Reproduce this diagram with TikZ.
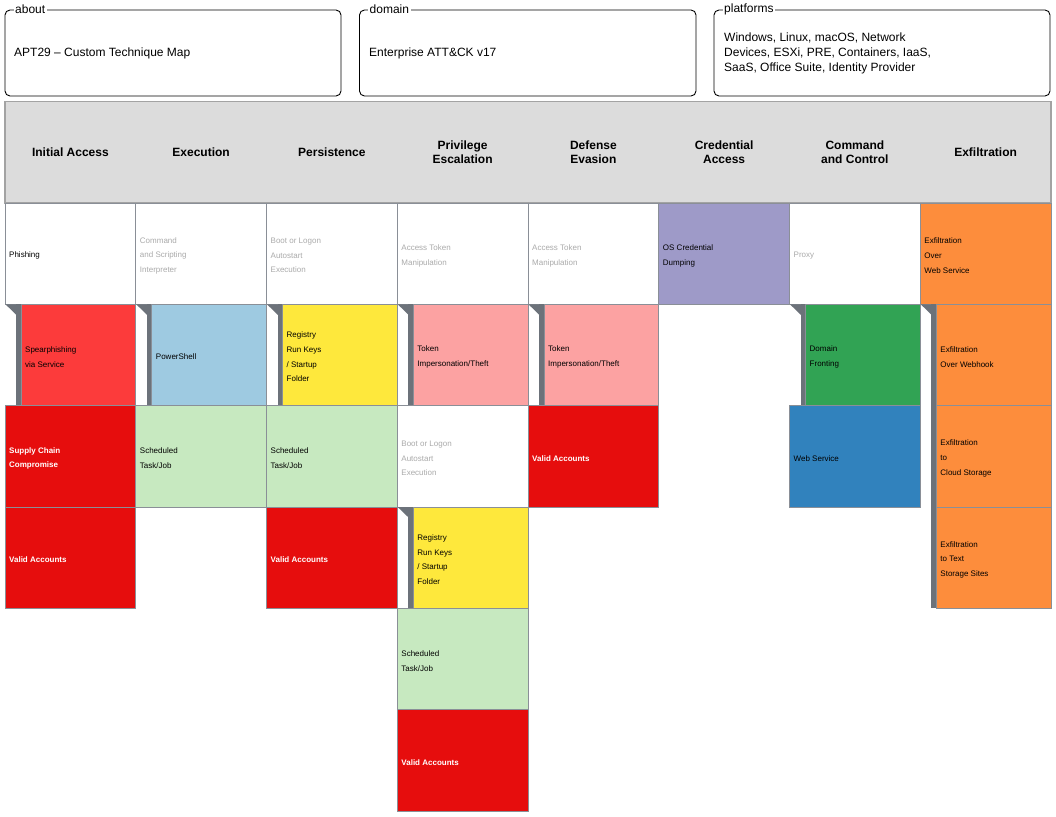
\documentclass[tikz,border=0pt]{standalone}
\usepackage{fontspec}
\setmainfont{Liberation Sans}
\definecolor{cellgray}{HTML}{8A8F97}
\definecolor{bargray}{HTML}{6C727A}
\definecolor{hdrgray}{HTML}{DCDCDC}
\definecolor{hdrline}{HTML}{A3A3A3}
\definecolor{txtgray}{HTML}{AAAAAA}
\definecolor{cRedA}{HTML}{FC3B3B}
\definecolor{cRed}{HTML}{E60D0D}
\definecolor{cBlueL}{HTML}{9ECAE1}
\definecolor{cYel}{HTML}{FEE83C}
\definecolor{cPink}{HTML}{FCA2A2}
\definecolor{cPurp}{HTML}{9E9AC8}
\definecolor{cGreen}{HTML}{31A354}
\definecolor{cBlue}{HTML}{3182BD}
\definecolor{cOrange}{HTML}{FD8D3C}
\definecolor{cGreenL}{HTML}{C7E9C0}
\newcommand\cw{130.75}
\newcommand\rh{101.35}
\tikzset{
  cellbox/.style={draw=cellgray, line width=0.9pt, anchor=north west, minimum width=130.75pt,
    minimum height=101.35pt, inner sep=0pt, outer sep=0pt},
  subbox/.style={draw=cellgray, line width=0.9pt, anchor=north west, minimum width=114.75pt,
    minimum height=101.35pt, inner sep=0pt, outer sep=0pt},
  celltext/.style={anchor=west, inner sep=0pt, align=left, text=black,
    font=\fontsize{8}{14.6}\selectfont},
  unused/.style={text=txtgray},
  redtext/.style={text=white, font=\bfseries\fontsize{8}{14.6}\selectfont},
  hdr/.style={align=center, font=\bfseries\fontsize{12}{14}\selectfont, inner sep=0pt},
  topbox/.style={draw=black, line width=0.9pt, rounded corners=5pt},
  toplabel/.style={fill=white, inner xsep=1.5pt, inner ysep=0pt, anchor=west, font=\fontsize{12}{14}\selectfont},
  toptext/.style={anchor=west, align=left, inner sep=0pt, font=\fontsize{12}{15}\selectfont},
  marker/.style={fill=bargray, draw=none}
}
% \tcell{name}{col}{row}{fill}{text style}{text}
\newcommand\tcell[6]{%
  \node[cellbox,fill=#4] (#1) at ({5+#2*\cw},{203+#3*\rh}) {};
  \node[celltext,#5] (#1-t) at ([xshift=4pt,yshift=-2pt]#1.west) {#6};}
% \scell{name}{col}{row}{fill}{text}{triangle 1/0}
\newcommand\scell[6]{%
  \fill[marker] ({5+#2*\cw+11},{203+#3*\rh}) rectangle ({5+#2*\cw+16},{203+(#3+1)*\rh});
  \ifnum#6=1
  \fill[marker] ({5+#2*\cw+0.5},{203+#3*\rh}) -- ({5+#2*\cw+16},{203+#3*\rh}) -- ({5+#2*\cw+16},{203+#3*\rh+15}) -- cycle;
  \fi
  \node[subbox,fill=#4] (#1) at ({5+#2*\cw+16},{203+#3*\rh}) {};
  \node[celltext] (#1-t) at ([xshift=4pt,yshift=-2pt]#1.west) {#5};}
\begin{document}
\begin{tikzpicture}[x=1pt,y=-1pt]
\useasboundingbox[fill=white] (0,0) rectangle (1056,816);
% top info boxes
\draw[topbox] (5,10) rectangle (341,96);
\node[toplabel] (labAbout) at (13.5,9.5) {about};
\node[toptext] (txtAbout) at (14,53) {APT29 – Custom Technique Map};
\draw[topbox] (359.5,10) rectangle (696,96);
\node[toplabel] (labDomain) at (368,9.5) {domain};
\node[toptext] (txtDomain) at (369,53) {Enterprise ATT\&CK v17};
\draw[topbox] (714,10) rectangle (1050,96);
\node[toplabel] (labPlat) at (722.5,9.5) {platforms};
\node[toptext] (txtPlat) at (724,53) {Windows, Linux, macOS, Network\\Devices, ESXi, PRE, Containers, IaaS,\\SaaS, Office Suite, Identity Provider};
% header band
\draw[fill=hdrgray, draw=hdrline, line width=1.5pt] (5,101.5) rectangle (1051,203);
\node[hdr] (h0) at ({5+0.5*\cw},152) {Initial Access};
\node[hdr] (h1) at ({5+1.5*\cw},152) {Execution};
\node[hdr] (h2) at ({5+2.5*\cw},152) {Persistence};
\node[hdr] (h3) at ({5+3.5*\cw},152) {Privilege\\Escalation};
\node[hdr] (h4) at ({5+4.5*\cw},152) {Defense\\Evasion};
\node[hdr] (h5) at ({5+5.5*\cw},152) {Credential\\Access};
\node[hdr] (h6) at ({5+6.5*\cw},152) {Command\\and Control};
\node[hdr] (h7) at ({5+7.5*\cw},152) {Exfiltration};
% Initial Access
\tcell{ia0}{0}{0}{white}{}{Phishing}
\scell{ia1}{0}{1}{cRedA}{Spearphishing\\via Service}{1}
\tcell{ia2}{0}{2}{cRed}{redtext}{Supply Chain\\Compromise}
\tcell{ia3}{0}{3}{cRed}{redtext}{Valid Accounts}
% Execution
\tcell{ex0}{1}{0}{white}{unused}{Command\\and Scripting\\Interpreter}
\scell{ex1}{1}{1}{cBlueL}{PowerShell}{1}
\tcell{ex2}{1}{2}{cGreenL}{}{Scheduled\\Task/Job}
% Persistence
\tcell{pe0}{2}{0}{white}{unused}{Boot or Logon\\Autostart\\Execution}
\scell{pe1}{2}{1}{cYel}{Registry\\Run Keys\\/ Startup\\Folder}{1}
\tcell{pe2}{2}{2}{cGreenL}{}{Scheduled\\Task/Job}
\tcell{pe3}{2}{3}{cRed}{redtext}{Valid Accounts}
% Privilege Escalation
\tcell{pr0}{3}{0}{white}{unused}{Access Token\\Manipulation}
\scell{pr1}{3}{1}{cPink}{Token\\Impersonation/Theft}{1}
\tcell{pr2}{3}{2}{white}{unused}{Boot or Logon\\Autostart\\Execution}
\scell{pr3}{3}{3}{cYel}{Registry\\Run Keys\\/ Startup\\Folder}{1}
\tcell{pr4}{3}{4}{cGreenL}{}{Scheduled\\Task/Job}
\tcell{pr5}{3}{5}{cRed}{redtext}{Valid Accounts}
% Defense Evasion
\tcell{de0}{4}{0}{white}{unused}{Access Token\\Manipulation}
\scell{de1}{4}{1}{cPink}{Token\\Impersonation/Theft}{1}
\tcell{de2}{4}{2}{cRed}{redtext}{Valid Accounts}
% Credential Access
\tcell{ca0}{5}{0}{cPurp}{}{OS Credential\\Dumping}
% Command and Control
\tcell{cc0}{6}{0}{white}{unused}{Proxy}
\scell{cc1}{6}{1}{cGreen}{Domain\\Fronting}{1}
\tcell{cc2}{6}{2}{cBlue}{}{Web Service}
% Exfiltration
\tcell{xf0}{7}{0}{cOrange}{}{Exfiltration\\Over\\Web Service}
\scell{xf1}{7}{1}{cOrange}{Exfiltration\\Over Webhook}{1}
\scell{xf2}{7}{2}{cOrange}{Exfiltration\\to\\Cloud Storage}{0}
\scell{xf3}{7}{3}{cOrange}{Exfiltration\\to Text\\Storage Sites}{0}
\end{tikzpicture}
\end{document}
